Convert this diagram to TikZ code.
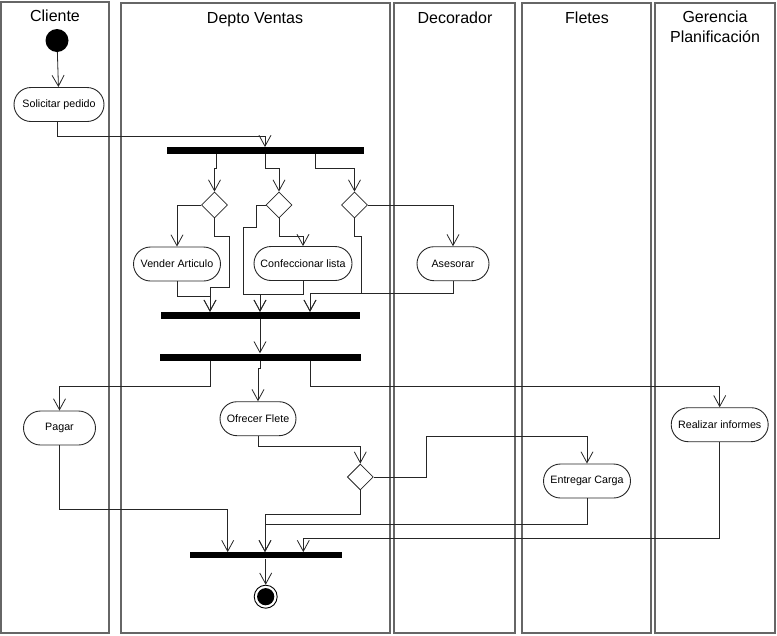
\documentclass[tikz,border=0pt]{standalone}
\usepackage{fontspec}
\setmainfont{Liberation Sans}
\usetikzlibrary{arrows.meta,shapes.geometric}

\begin{document}
\begin{tikzpicture}[x=1pt,y=-1pt,
  lane/.style={draw=black!60, line width=1.3pt},
  title/.style={font=\fontsize{16}{20}\selectfont, anchor=base},
  act/.style={draw=black!85, line width=0.9pt, rectangle, rounded corners=17pt,
    minimum height=34pt, inner sep=0pt, font=\fontsize{10.7}{13}\selectfont},
  bar/.style={fill=black, draw=none, inner sep=0pt, minimum height=7pt},
  choice/.style={diamond, draw=black!85, line width=0.8pt, aspect=1,
    minimum width=26pt, minimum height=26pt, inner sep=0pt},
  flow/.style={draw=black!85, line width=0.8pt,
    -{Straight Barb[length=11pt,width=12pt]}},
  link/.style={draw=black!85, line width=0.8pt}
]
\useasboundingbox (0,0) rectangle (777,635);

% swimlanes
\draw[lane] (1,2) rectangle (109,633);
\draw[lane] (121,3) rectangle (390,633);
\draw[lane] (394,3) rectangle (515,633);
\draw[lane] (522,3) rectangle (651,633);
\draw[lane] (655,3) rectangle (775,633);

\node[title] (t1) at (55,21) {Cliente};
\node[title] (t2) at (255,23) {Depto Ventas};
\node[title] (t3) at (455,23) {Decorador};
\node[title] (t4) at (587,23) {Fletes};
\node[title] (t5) at (715,22) {Gerencia};
\node[title] (t6) at (715,42) {Planificación};

% activities and control nodes
\node[circle, fill=black, minimum size=23pt, inner sep=0pt] (start) at (57,40.5) {};
\node[act, minimum width=90pt] (sol) at (59,104.5) {Solicitar pedido};
\node[bar, minimum width=197pt] (bar1) at (265.5,150.75) {};
\node[choice] (d1) at (214.5,205) {};
\node[choice] (d2) at (279,205) {};
\node[choice] (d3) at (354.5,205) {};
\node[act, minimum width=87pt] (vend) at (177,264) {Vender Articulo};
\node[act, minimum width=98pt] (conf) at (303,263.5) {Confeccionar lista};
\node[act, minimum width=72pt] (ases) at (453,263.7) {Asesorar};
\node[bar, minimum width=199pt] (bar2) at (260.5,315.5) {};
\node[bar, minimum width=201pt] (bar3) at (260.5,357) {};
\node[act, minimum width=72pt] (pagar) at (59.5,428) {Pagar};
\node[act, minimum width=76pt] (ofre) at (258,418.7) {Ofrecer Flete};
\node[act, minimum width=97pt] (real) at (719.7,424.7) {Realizar informes};
\node[choice] (d4) at (360.3,477) {};
\node[act, minimum width=87pt] (entr) at (587,481) {Entregar Carga};
\node[bar, minimum width=152pt, minimum height=6pt] (bar4) at (265.5,555.3) {};
\node[circle, draw=black, line width=0.9pt, minimum size=23pt, inner sep=0pt] (end) at (265.7,596.7) {};
\fill[black] (end.center) circle[radius=8.6pt];

% flows
\draw[flow] (start) -- (sol);
\draw[flow] (57,0 |- sol.south) -- (57,136) -- (265,136) -- (265,0 |- bar1.north);

\draw[flow] (216.7,0 |- bar1.south) -- (216.7,168) -- (214.5,168) -- (d1.north);
\draw[flow] (265,0 |- bar1.south) -- (265,168) -- (279,168) -- (d2.north);
\draw[flow] (315,0 |- bar1.south) -- (315,168) -- (354.5,168) -- (d3.north);

\draw[flow] (d1.west) -- (177,205) -- (vend.north);
\draw[flow] (d1.south) -- (214.5,236) -- (229.3,236) -- (229.3,287) -- (210,287) -- (210,0 |- bar2.north);
\draw[flow] (vend.south) -- (177,296) -- (210,296) -- (210,0 |- bar2.north);

\draw[flow] (d2.west) -- (256,205) -- (256,227) -- (243.3,227) -- (243.3,294) -- (260,294) -- (260,0 |- bar2.north);
\draw[flow] (d2.south) -- (279,236.7) -- (303,236.7) -- (conf.north);
\draw[flow] (conf.south) -- (303,294) -- (260,294) -- (260,0 |- bar2.north);

\draw[flow] (d3.east) -- (453,205) -- (ases.north);
\draw[flow] (d3.south) -- (354.5,236.7) -- (361.7,236.7) -- (361.7,293) -- (310,293) -- (310,0 |- bar2.north);
\draw[flow] (ases.south) -- (453,293) -- (310,293) -- (310,0 |- bar2.north);

\draw[flow] (260,0 |- bar2.south) -- (260,0 |- bar3.north);

\draw[flow] (210,0 |- bar3.south) -- (210,386) -- (59.5,386) -- (pagar.north);
\draw[flow] (260,0 |- bar3.south) -- (260,368) -- (258,368) -- (ofre.north);
\draw[flow] (310,0 |- bar3.south) -- (310,386) -- (719.7,386) -- (real.north);

\draw[flow] (ofre.south) -- (258,446.7) -- (360.3,446.7) -- (d4.north);
\draw[flow] (d4.east) -- (426.7,477) -- (426.7,436) -- (587,436) -- (entr.north);

\draw[flow] (d4.south) -- (360.3,514) -- (265,514) -- (265,0 |- bar4.north);
\draw[flow] (pagar.south) -- (59.5,509.3) -- (227.7,509.3) -- (227.7,0 |- bar4.north);
\draw[flow] (entr.south) -- (587,524.3) -- (265,524.3) -- (265,0 |- bar4.north);
\draw[flow] (real.south) -- (719.7,538.3) -- (303.3,538.3) -- (303.3,0 |- bar4.north);

\draw[flow] (265.7,0 |- bar4.south) -- (end.north);
\end{tikzpicture}
\end{document}
